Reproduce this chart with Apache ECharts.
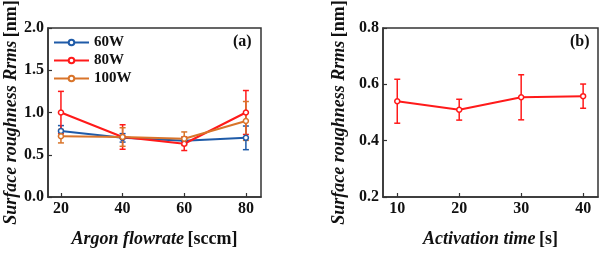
<!DOCTYPE html>
<html>
<head>
<meta charset="utf-8">
<script src="https://cdn.jsdelivr.net/npm/echarts@6/dist/echarts.min.js"></script>
<style>
html, body { margin: 0; padding: 0; background: #fff; }
#chart { width: 600px; height: 253px; }
</style>
</head>
<body>
<div id="chart"></div>
<script>
// panel (a): argon flowrate
var flowrate = [20, 40, 60, 80];
var rms60W = [0.78, 0.70, 0.665, 0.70];
var err60W = [0.065, 0.05, 0.04, 0.14];
var rms80W = [1.0, 0.71, 0.63, 1.0];
var err80W = [0.25, 0.145, 0.08, 0.26];
var rms100W = [0.72, 0.71, 0.69, 0.90];
var err100W = [0.08, 0.11, 0.08, 0.23];
// panel (b): activation time
var actTime = [10, 20, 30, 40];
var rmsAct = [0.540, 0.510, 0.554, 0.558];
var errAct = [0.078, 0.037, 0.080, 0.043];

var serif = 'Liberation Serif';
var axisColor = '#333';

function pts(xs, ys) {
    return xs.map(function (x, i) { return [x, ys[i]]; });
}
function errPts(xs, ys, es) {
    return xs.map(function (x, i) { return [x, ys[i], es[i]]; });
}

function errorBars(api) {
    var x = api.value(0), y = api.value(1), e = api.value(2);
    var hi = api.coord([x, y + e]);
    var lo = api.coord([x, y - e]);
    var st = { stroke: api.visual('color'), lineWidth: 1.5 };
    var w = 3;
    return {
        type: 'group',
        children: [
            { type: 'line', shape: { x1: hi[0], y1: hi[1], x2: lo[0], y2: lo[1] }, style: st },
            { type: 'line', shape: { x1: hi[0] - w, y1: hi[1], x2: hi[0] + w, y2: hi[1] }, style: st },
            { type: 'line', shape: { x1: lo[0] - w, y1: lo[1], x2: lo[0] + w, y2: lo[1] }, style: st }
        ]
    };
}

function lineSeries(name, xs, ys, color, idx) {
    return {
        name: name, type: 'line', data: pts(xs, ys),
        xAxisIndex: idx, yAxisIndex: idx,
        symbol: 'circle', symbolSize: 5,
        itemStyle: { color: '#fff', borderColor: color, borderWidth: 1.5 },
        lineStyle: { color: color, width: 2 },
        z: 3
    };
}
function errSeries(name, xs, ys, es, color, idx) {
    return {
        name: name + ' err', type: 'custom', data: errPts(xs, ys, es),
        xAxisIndex: idx, yAxisIndex: idx,
        itemStyle: { color: color, opacity: 0.85 },
        encode: { x: 0, y: 1 },
        renderItem: function (params, api) { return errorBars(api); },
        z: 2
    };
}

var nameRich = {
    i: { fontFamily: serif, fontStyle: 'italic', fontWeight: 'bold', fontSize: 18, color: '#111' },
    n: { fontFamily: serif, fontWeight: 'bold', fontSize: 18, color: '#111' }
};

function xAxis(idx, min, max, ticks, title, unit, gap) {
    return {
        type: 'value', gridIndex: idx, min: min, max: max,
        splitLine: { show: false },
        axisLine: { lineStyle: { color: axisColor, width: 1.5 } },
        axisTick: { inside: true, length: 4, customValues: ticks, lineStyle: { color: axisColor, width: 1.2 } },
        axisLabel: { customValues: ticks, fontFamily: serif, fontWeight: 'bold', fontSize: 16, color: '#111', margin: 4 },
        name: '{i|' + title + '} {n|' + unit + '}',
        nameLocation: 'middle', nameGap: gap,
        nameTextStyle: { rich: nameRich }
    };
}
function yAxis(idx, min, max, interval, gap) {
    return {
        type: 'value', gridIndex: idx, min: min, max: max, interval: interval,
        splitLine: { show: false },
        axisLine: { show: true, lineStyle: { color: axisColor, width: 1.5 } },
        axisTick: { show: true, inside: true, length: 4, lineStyle: { color: axisColor, width: 1.2 } },
        axisLabel: {
            fontFamily: serif, fontWeight: 'bold', fontSize: 16, color: '#111', margin: 4,
            formatter: function (v) { return v.toFixed(1); }
        },
        name: '{i|Surface roughness Rrms} {n|[nm]}',
        nameLocation: 'middle', nameGap: gap,
        nameTextStyle: { rich: nameRich }
    };
}

var blue = '#1f5ba8', red = '#ff1a1a', orange = '#d9742a';

var chart = echarts.init(document.getElementById('chart'), null, { renderer: 'canvas' });
var option = {
    animation: false,
    backgroundColor: '#fff',
    grid: [
        { left: 48, top: 28, width: 213, height: 175, show: true, borderColor: axisColor, borderWidth: 1.5, backgroundColor: 'transparent' },
        { left: 383, top: 28, width: 215, height: 175, show: true, borderColor: axisColor, borderWidth: 1.5, backgroundColor: 'transparent' }
    ],
    xAxis: [
        xAxis(0, 15.8, 84.9, flowrate, 'Argon flowrate', '[sccm]', 33),
        xAxis(1, 7.7, 42.4, actTime, 'Activation time', '[s]', 33)
    ],
    yAxis: [
        yAxis(0, 0, 2, 0.5, 26),
        yAxis(1, 0.2, 0.8, 0.2, 35)
    ],
    legend: {
        left: 48, top: 30, orient: 'vertical', itemWidth: 35, itemHeight: 7, itemGap: 3,
        data: ['60W', '80W', '100W'],
        textStyle: { fontFamily: serif, fontWeight: 'bold', fontSize: 15, color: '#111' }
    },
    graphic: [
        { type: 'text', left: 233, top: 34, style: { text: '(a)', font: 'bold 16px "Liberation Serif"', fill: '#111' } },
        { type: 'text', left: 570, top: 34, style: { text: '(b)', font: 'bold 16px "Liberation Serif"', fill: '#111' } }
    ],
    series: [
        errSeries('60W', flowrate, rms60W, err60W, blue, 0),
        errSeries('80W', flowrate, rms80W, err80W, red, 0),
        errSeries('100W', flowrate, rms100W, err100W, orange, 0),
        lineSeries('60W', flowrate, rms60W, blue, 0),
        lineSeries('80W', flowrate, rms80W, red, 0),
        lineSeries('100W', flowrate, rms100W, orange, 0),
        errSeries('act', actTime, rmsAct, errAct, red, 1),
        lineSeries('act', actTime, rmsAct, red, 1)
    ]
};
chart.setOption(option);
window.addEventListener('resize', function () { chart.resize(); });
</script>
</body>
</html>
